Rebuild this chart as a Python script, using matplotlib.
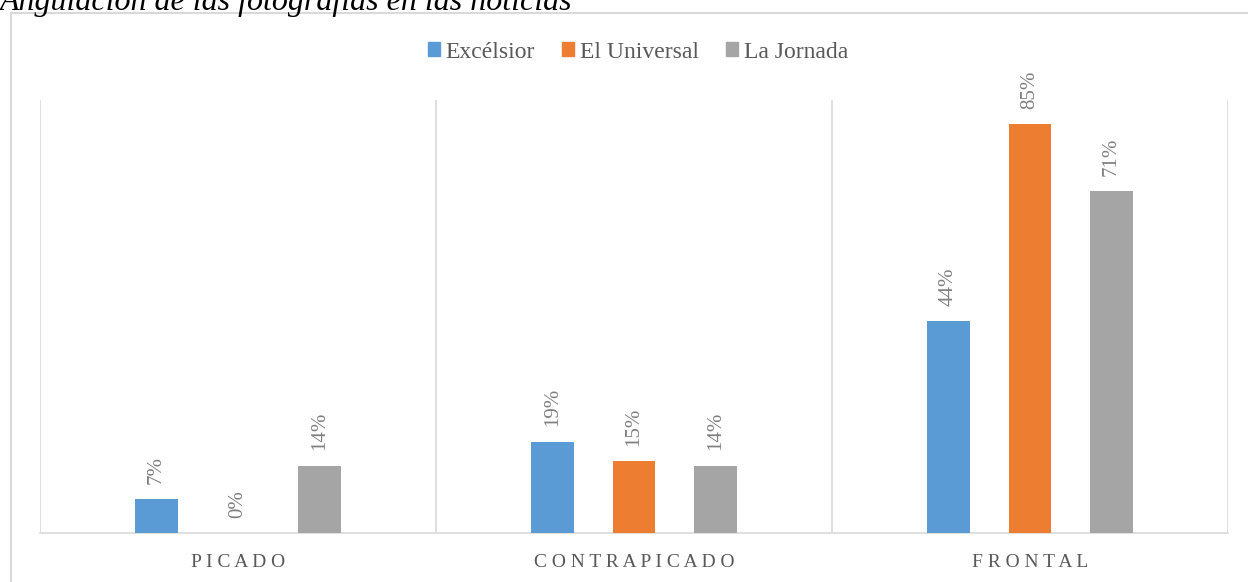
import matplotlib.pyplot as plt
import matplotlib.patches as mpatches
import numpy as np

categories = ["PICADO", "CONTRAPICADO", "FRONTAL"]
series = ["Excélsior", "El Universal", "La Jornada"]
excelsior = [0.07, 0.19, 0.44]
universal = [0.00, 0.15, 0.85]
jornada = [0.14, 0.14, 0.71]
colors = ["#5B9BD5", "#ED7D31", "#A5A5A5"]
title = "Angulación de las fotografías en las noticias"


def spaced(s):
    return " ".join(s)


def main():
    plt.rcParams['font.family'] = ['Liberation Serif', 'DejaVu Serif']
    fig = plt.figure(figsize=(12.48, 5.82), dpi=100)
    ax = fig.add_axes([40/1248, 49/582, 1188/1248, 433/582])

    # outer chart border (cut off at right and bottom)
    fig.patches.append(mpatches.Rectangle((11/1248, -0.1), 1.2, (582-13)/582+0.1,
                                          transform=fig.transFigure, fill=False,
                                          edgecolor="#D9D9D9", linewidth=1.5))
    fig.text(0, 1.0 - 10/582, title, fontsize=23, style="italic",
             ha="left", va="baseline", color="black")

    x = np.arange(len(categories))
    w = 0.108
    off = 0.206
    data = [excelsior, universal, jornada]
    for i, vals in enumerate(data):
        ax.bar(x + (i - 1) * off, vals, w, color=colors[i], label=series[i], zorder=3)
        for xi, v in zip(x + (i - 1) * off, vals):
            ax.annotate("%d%%" % round(v * 100), (xi, v), xytext=(0, 11),
                        textcoords="offset points", rotation=90, ha="center",
                        va="bottom", fontsize=15, color="#7F7F7F")

    ax.set_xlim(-0.5, 2.5)
    ax.set_ylim(0, 0.9)
    ax.vlines([-0.5, 0.5, 1.5, 2.5], 0, 0.9, color="#D9D9D9", linewidth=1.2, zorder=1)
    for s in ["top", "left", "right"]:
        ax.spines[s].set_visible(False)
    ax.spines["bottom"].set_color("#D9D9D9")
    ax.spines["bottom"].set_linewidth(1.2)
    ax.set_yticks([])
    ax.set_xticks(x)
    ax.set_xticklabels([spaced(c) for c in categories], fontsize=14, color="#595959")
    ax.tick_params(axis="x", length=0, pad=15)

    handles = [mpatches.Patch(color=c) for c in colors]
    fig.legend(handles, series, loc="center", bbox_to_anchor=(638/1248, 1 - 52/582),
               ncol=3, frameon=False, fontsize=17, handlelength=0.5, handleheight=0.5,
               handletextpad=0.25, columnspacing=1.15, labelcolor="#595959")

    fig.savefig("out.png", dpi=100)


if __name__ == '__main__':
    main()
